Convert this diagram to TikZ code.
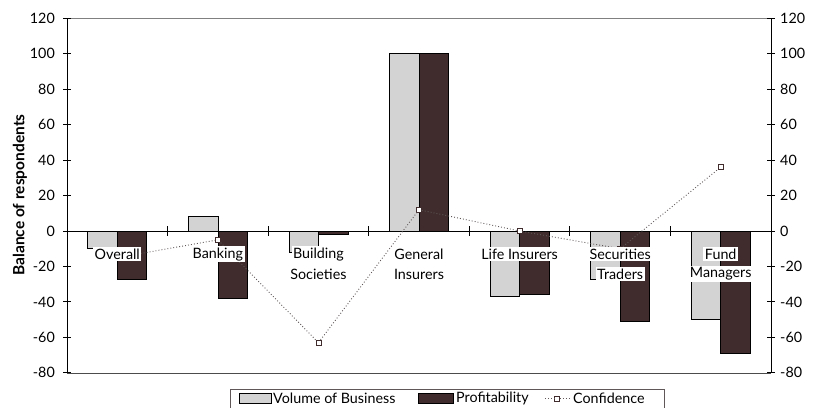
\documentclass[tikz,border=0pt]{standalone}
\usepackage{fontspec}
\setmainfont{Lato}
\usetikzlibrary{positioning}

\definecolor{r211g211b211}{rgb}{0.827451,0.827451,0.827451}
\definecolor{r64g44b44}{rgb}{0.250980,0.172549,0.172549}
\definecolor{r96g88b88}{rgb}{0.376471,0.345098,0.345098}

\tikzset{
  volbar/.style={fill=r211g211b211, draw=black, line width=0.7pt},
  profbar/.style={fill=r64g44b44, draw=black, line width=0.7pt},
  axisline/.style={line width=1pt},
  ticktext/.style={inner sep=0pt},
  catlabel/.style={fill=white, inner sep=1.5pt},
  confmark/.style={draw=r64g44b44, fill=white, line width=0.6pt, minimum size=5pt, inner sep=0pt},
  confline/.style={draw=r96g88b88, line width=0.9pt, dash pattern=on 0.9pt off 2.1pt},
}

\begin{document}
\begin{tikzpicture}[x=1pt,y=-1pt]
\useasboundingbox (0,0) rectangle (816,407);
{\fontsize{14.3pt}{17pt}\selectfont

% Drawing frame
\draw [line width=0.8pt, gray] (67,18) -- (771,18);%
\draw [line width=0.8pt, gray!60!black] (67,373) -- (771,373);%
\draw [axisline] (67,18) -- (67,373);%
\draw [axisline] (771,18) -- (771,373);%

% Axis title
\node [rotate=90, font=\bfseries\fontsize{15.5pt}{17pt}\selectfont] (ytitle) at (20,195) {Balance of respondents};

\begin{scope}[shift={(0,231)}, y=1.7725pt]

% Drawing left and right value axes
\draw [axisline] (63,120) -- (71,120);%
\draw (55,120) node [anchor=east, ticktext] {120};%
\draw (780,120) node [anchor=west, ticktext] {120};%
\draw [axisline] (767,120) -- (775,120);%
\draw [axisline] (63,100) -- (71,100);%
\draw (55,100) node [anchor=east, ticktext] {100};%
\draw (780,100) node [anchor=west, ticktext] {100};%
\draw [axisline] (767,100) -- (775,100);%
\draw [axisline] (63,80) -- (71,80);%
\draw (55,80) node [anchor=east, ticktext] {80};%
\draw (780,80) node [anchor=west, ticktext] {80};%
\draw [axisline] (767,80) -- (775,80);%
\draw [axisline] (63,60) -- (71,60);%
\draw (55,60) node [anchor=east, ticktext] {60};%
\draw (780,60) node [anchor=west, ticktext] {60};%
\draw [axisline] (767,60) -- (775,60);%
\draw [axisline] (63,40) -- (71,40);%
\draw (55,40) node [anchor=east, ticktext] {40};%
\draw (780,40) node [anchor=west, ticktext] {40};%
\draw [axisline] (767,40) -- (775,40);%
\draw [axisline] (63,20) -- (71,20);%
\draw (55,20) node [anchor=east, ticktext] {20};%
\draw (780,20) node [anchor=west, ticktext] {20};%
\draw [axisline] (767,20) -- (775,20);%
\draw [axisline] (63,0) -- (71,0);%
\draw (55,0) node [anchor=east, ticktext] {0};%
\draw (780,0) node [anchor=west, ticktext] {0};%
\draw [axisline] (767,0) -- (775,0);%
\draw [axisline] (63,-20) -- (71,-20);%
\draw (55,-20) node [anchor=east, ticktext] {-20};%
\draw (780,-20) node [anchor=west, ticktext] {-20};%
\draw [axisline] (767,-20) -- (775,-20);%
\draw [axisline] (63,-40) -- (71,-40);%
\draw (55,-40) node [anchor=east, ticktext] {-40};%
\draw (780,-40) node [anchor=west, ticktext] {-40};%
\draw [axisline] (767,-40) -- (775,-40);%
\draw [axisline] (63,-60) -- (71,-60);%
\draw (55,-60) node [anchor=east, ticktext] {-60};%
\draw (780,-60) node [anchor=west, ticktext] {-60};%
\draw [axisline] (767,-60) -- (775,-60);%
\draw [axisline] (63,-80) -- (71,-80);%
\draw (55,-80) node [anchor=east, ticktext] {-80};%
\draw (780,-80) node [anchor=west, ticktext] {-80};%
\draw [axisline] (767,-80) -- (775,-80);%

% Drawing bars
\draw [volbar] (87.79,0) rectangle (117.29,-10);%
\draw [profbar] (117.29,0) rectangle (146.79,-27);%
\draw [volbar] (188.36,0) rectangle (217.86,8);%
\draw [profbar] (217.86,0) rectangle (247.36,-38);%
\draw [volbar] (288.93,0) rectangle (318.43,-12);%
\draw [profbar] (318.43,0) rectangle (347.93,-2);%
\draw [volbar] (389.50,0) rectangle (419.00,100);%
\draw [profbar] (419.00,0) rectangle (448.50,100);%
\draw [volbar] (490.07,0) rectangle (519.57,-37);%
\draw [profbar] (519.57,0) rectangle (549.07,-36);%
\draw [volbar] (590.64,0) rectangle (620.14,-27);%
\draw [profbar] (620.14,0) rectangle (649.64,-51);%
\draw [volbar] (691.21,0) rectangle (720.71,-50);%
\draw [profbar] (720.71,0) rectangle (750.21,-69);%

% Drawing category axis
\draw [axisline] (67,0) -- (771,0);%
\draw [axisline] (167.57,2.8) -- (167.57,-2.8);%
\draw [axisline] (268.14,2.8) -- (268.14,-2.8);%
\draw [axisline] (368.71,2.8) -- (368.71,-2.8);%
\draw [axisline] (469.29,2.8) -- (469.29,-2.8);%
\draw [axisline] (569.86,2.8) -- (569.86,-2.8);%
\draw [axisline] (670.43,2.8) -- (670.43,-2.8);%

% Drawing line Confidence
\node [confmark] (overallconf) at (117.29,-15) {};
\node [confmark] (bankingconf) at (217.86,-5) {};
\node [confmark] (buildingconf) at (318.43,-63) {};
\node [confmark] (generalconf) at (419.00,12) {};
\node [confmark] (lifeconf) at (519.57,0) {};
\node [confmark] (securitiesconf) at (620.14,-10) {};
\node [confmark] (fundconf) at (720.71,36) {};
\draw [confline] (overallconf) -- (bankingconf) -- (buildingconf) -- (generalconf)
  -- (lifeconf) -- (securitiesconf) -- (fundconf);%

% Category labels
\node [catlabel] (overall) at (117.29,-13) {Overall};
\node [catlabel] (banking) at (217.86,-13) {Banking};
\node [catlabel] (building) at (318.43,-13) {Building};
\node [catlabel] (societies) at (318.43,-24.3) {Societies};
\node [catlabel] (general) at (419.00,-13) {General};
\node [catlabel] (insurers) at (419.00,-24.3) {Insurers};
\node [catlabel] (life) at (519.57,-13) {Life Insurers};
\node [catlabel] (securities) at (620.14,-13) {Securities};
\node [catlabel] (traders) at (620.14,-24.3) {Traders};
\node [catlabel] (fund) at (720.71,-13) {Fund};
\node [catlabel] (managers) at (720.71,-24.3) {Managers};
\end{scope}

% Drawing legend
\draw [line width=0.8pt, draw=r96g88b88] (230,389) rectangle (664,412);%
\node [volbar, minimum width=32pt, minimum height=10pt, inner sep=0pt] (volkey) at (255,398.5) {};
\node [anchor=west, inner sep=0pt] (voltext) at (273,398.5) {Volume of Business};
\node [profbar, minimum width=35pt, minimum height=10pt, inner sep=0pt] (profkey) at (435.5,398.5) {};
\node [anchor=west, inner sep=0pt] (proftext) at (456,398.5) {Profitability};
\coordinate (confstart) at (545,398.5);
\node [confmark] (confkey) at (557,398.5) {};
\coordinate (confend) at (569,398.5);
\draw [confline] (confstart) -- (confkey) -- (confend);%
\node [anchor=west, inner sep=0pt] (conftext) at (573,398.5) {Confidence};
}
\end{tikzpicture}
\end{document}
